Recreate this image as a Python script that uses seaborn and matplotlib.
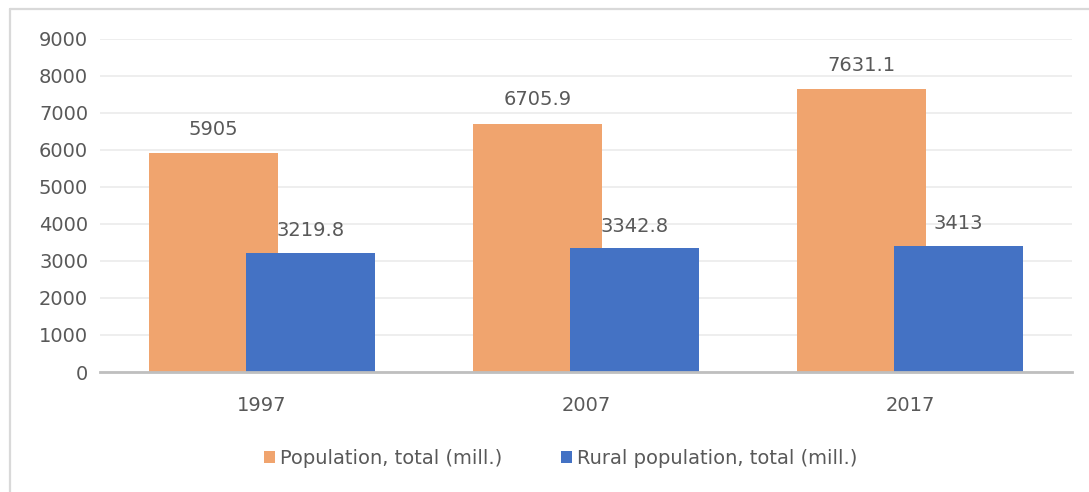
import numpy as np
import pandas as pd
import matplotlib
matplotlib.use("Agg")
import matplotlib.pyplot as plt
import seaborn as sns
from matplotlib.patches import Patch
from matplotlib.lines import Line2D

years = ["1997", "2007", "2017"]
total_pop = [5905, 6705.9, 7631.1]
rural_pop = [3219.8, 3342.8, 3413]
total_labels = ["5905", "6705.9", "7631.1"]
rural_labels = ["3219.8", "3342.8", "3413"]
series_names = ["Population, total (mill.)", "Rural population, total (mill.)"]
y_ticks = [0, 1000, 2000, 3000, 4000, 5000, 6000, 7000, 8000, 9000]

ORANGE = "#F0A46E"
BLUE = "#4472C4"
TEXT = "#595959"
FS = 14

sns.set_theme(style="white")
plt.rcParams["font.family"] = ["DejaVu Sans"]

fig = plt.figure(figsize=(10.89, 4.92), dpi=100)
ax = fig.add_axes([0.0918, 0.2439, 0.8926, 0.6778])

idx = np.arange(len(years))
off = 0.15
sns.barplot(x=idx - off, y=total_pop, native_scale=True, width=0.4,
            color=ORANGE, saturation=1, ax=ax, linewidth=0, zorder=2)
sns.barplot(x=idx + off, y=rural_pop, native_scale=True, width=0.4,
            color=BLUE, saturation=1, ax=ax, linewidth=0, zorder=3)

ax.bar_label(ax.containers[0], labels=total_labels, padding=10.5,
             fontsize=FS, color=TEXT, zorder=5)
ax.bar_label(ax.containers[1], labels=rural_labels, padding=9,
             fontsize=FS, color=TEXT, zorder=5)

ax.set_xlim(-0.5, 2.5)
ax.set_ylim(0, 9000)
ax.set_yticks(y_ticks)
ax.set_yticklabels([str(v) for v in y_ticks])
ax.set_xticks(idx)
ax.set_xticklabels(years)
ax.tick_params(axis="both", labelsize=FS, colors=TEXT, length=0)
ax.tick_params(axis="y", pad=8.5)
ax.tick_params(axis="x", pad=17)
ax.set_xlabel("")
ax.set_ylabel("")

ax.grid(axis="y", color="#EDEDED", linewidth=1.3, zorder=0)
ax.grid(axis="x", visible=False)
ax.set_axisbelow(True)
for s in ["top", "right", "left"]:
    ax.spines[s].set_visible(False)
ax.spines["bottom"].set_color("#BFBFBF")
ax.spines["bottom"].set_linewidth(2)
ax.spines["bottom"].set_zorder(4)

handles = [Patch(facecolor=ORANGE, edgecolor="none"),
           Patch(facecolor=BLUE, edgecolor="none")]
fig.legend(handles, series_names, loc="center", bbox_to_anchor=(0.515, 0.068),
           ncol=2, frameon=False, fontsize=FS, labelcolor=TEXT,
           handlelength=0.55, handleheight=0.55, handletextpad=0.3,
           columnspacing=3.0)

# outer chart frame (left and top edges visible)
fx = 9.5 / 1089
fy = 1 - 8.5 / 492
fig.add_artist(Line2D([fx, fx], [0, fy], transform=fig.transFigure,
                      color="#D9D9D9", linewidth=1.6))
fig.add_artist(Line2D([fx, 1], [fy, fy], transform=fig.transFigure,
                      color="#D9D9D9", linewidth=1.6))

fig.savefig("out.png", dpi=100)
